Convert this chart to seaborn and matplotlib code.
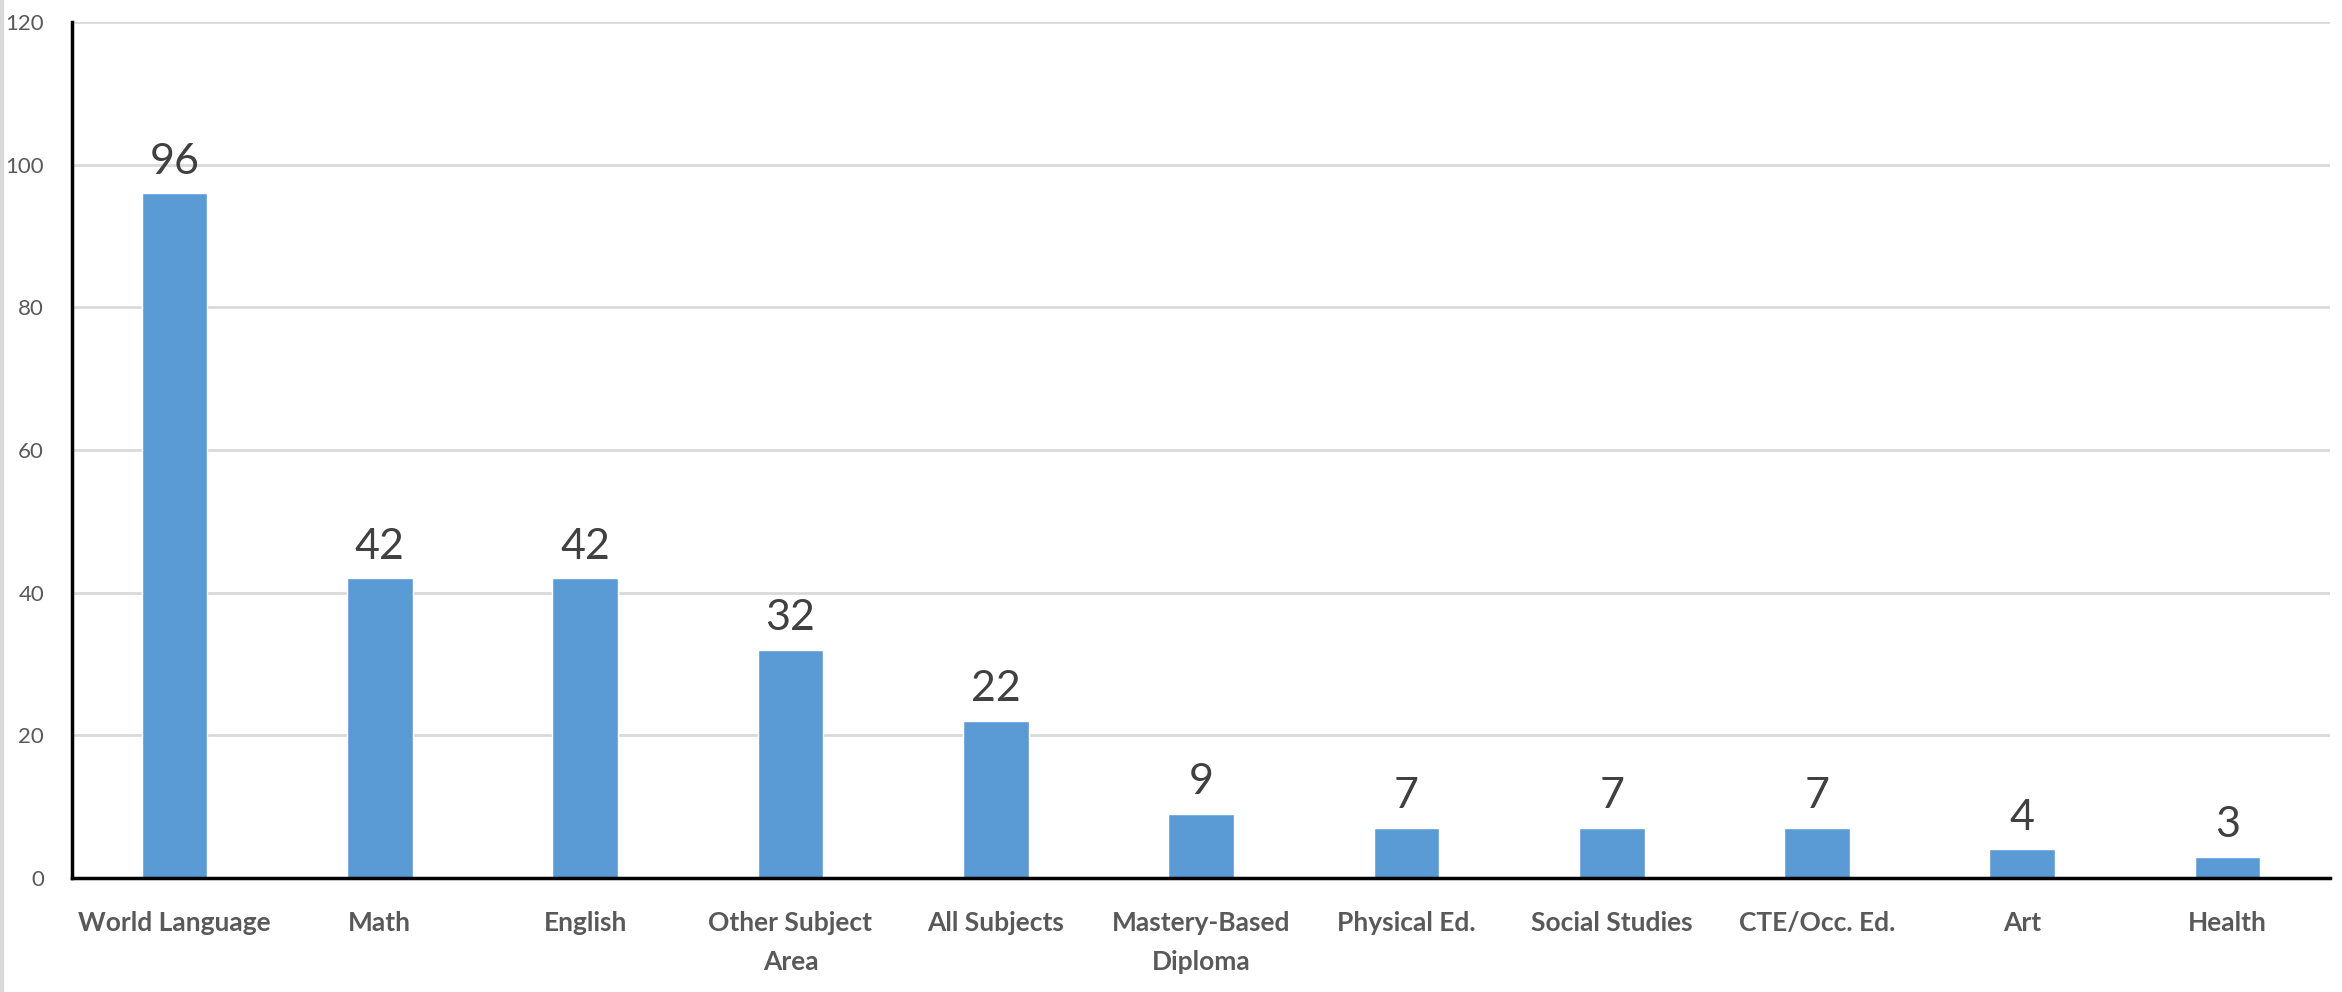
import pandas as pd
import matplotlib
matplotlib.use("Agg")
import matplotlib.pyplot as plt
from matplotlib import font_manager
from matplotlib.lines import Line2D
import seaborn as sns

# values
subjects = ["World Language", "Math", "English", "Other Subject\nArea", "All Subjects",
            "Mastery-Based\nDiploma", "Physical Ed.", "Social Studies", "CTE/Occ. Ed.",
            "Art", "Health"]
counts = [96, 42, 42, 32, 22, 9, 7, 7, 7, 4, 3]
y_ticks = [0, 20, 40, 60, 80, 100, 120]

df = pd.DataFrame({"subject": subjects, "count": counts})

sns.set_style("white")
installed = {f.name for f in font_manager.fontManager.ttflist}
main_font = "Lato" if "Lato" in installed else "DejaVu Sans"
plt.rcParams["font.family"] = [main_font, "DejaVu Sans"]

fig = plt.figure(figsize=(23.42, 9.92), dpi=100)
ax = fig.add_axes([0.0307, 0.115, 0.9643, 0.863])

sns.barplot(data=df, x="subject", y="count", color="#5B9BD5", saturation=1,
            width=0.32, ax=ax, zorder=3)

ax.bar_label(ax.containers[0], labels=[str(c) for c in counts], padding=9,
             fontsize=31, color="#404040")

ax.set_ylim(0, 120)
ax.set_xlim(-0.5, len(subjects) - 0.5)
ax.set_yticks(y_ticks)
ax.set_yticklabels([str(t) for t in y_ticks], fontsize=16, color="#595959")
ax.tick_params(axis="y", length=0, pad=20)
ax.tick_params(axis="x", length=0, pad=24)
for lab in ax.get_xticklabels():
    lab.set_fontsize(19)
    lab.set_fontweight("bold")
    lab.set_color("#595959")
    lab.set_linespacing(1.75)

ax.set_xlabel("")
ax.set_ylabel("")
ax.yaxis.grid(True, color="#D9D9D9", linewidth=2)
ax.set_axisbelow(True)
for side in ["top", "right"]:
    ax.spines[side].set_visible(False)
for side in ["left", "bottom"]:
    ax.spines[side].set_color("black")
    ax.spines[side].set_linewidth(2.5)
    ax.spines[side].set_zorder(4)

# thin grey frame edge on the left of the picture
fig.add_artist(Line2D([0.001, 0.001], [0, 1], color="#D9D9D9", linewidth=3,
                      transform=fig.transFigure))

fig.savefig("out.png", dpi=100)
